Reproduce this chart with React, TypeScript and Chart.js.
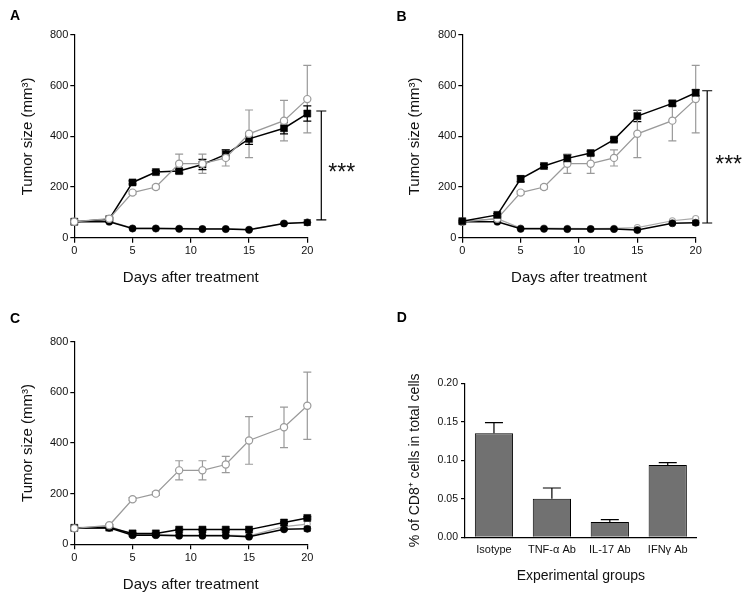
import React, { useEffect, useRef } from "react";
import { Chart, registerables } from "chart.js";

Chart.register(...registerables);

const FONT = "'Liberation Sans', Arial, Helvetica, sans-serif";
const GRAY = "#9a9a9a";
const BLACK = "#000";
const TEXT = "#111";

// ---------------- data ----------------
const days = [0, 3, 5, 7, 9, 11, 13, 15, 18, 20];
const dayTicks = [0, 5, 10, 15, 20];
const sizeTicks = [0, 200, 400, 600, 800];

// isotype control (grey open circles), same in A, B, C
const isoSize = [63, 75, 178, 200, 292, 292, 315, 410, 462, 547];
const isoErr = [3, 4, 6, 7, 38, 38, 32, 94, 80, 133];

// panel A
const aSquare = [63, 73, 218, 259, 263, 289, 329, 390, 432, 490];
const aSquareErr = [3, 4, 6, 6, 8, 20, 18, 22, 22, 30];
const aGray = [63, 66, 38, 38, 37, 36, 36, 33, 57, 62];
const aGrayErr = [2, 2, 2, 2, 2, 2, 2, 2, 3, 5];
const aCircle = [63, 63, 36, 36, 35, 34, 34, 31, 56, 60];
const aCircleErr = [2, 2, 2, 2, 2, 2, 2, 2, 4, 10];

// panel B
const bSquare = [65, 90, 232, 283, 313, 334, 387, 480, 530, 572];
const bSquareErr = [3, 5, 12, 6, 15, 8, 6, 22, 10, 12];
const bGray = [63, 75, 38, 38, 37, 36, 37, 40, 67, 76];
const bGrayErr = [2, 2, 2, 2, 2, 2, 2, 2, 3, 4];
const bCircle = [63, 63, 35, 35, 34, 34, 34, 30, 57, 59];
const bCircleErr = [2, 2, 2, 2, 2, 2, 2, 2, 4, 8];

// panel C
const cSquare = [65, 66, 43, 43, 58, 58, 58, 58, 86, 104];
const cSquareErr = [2, 2, 2, 2, 2, 2, 2, 2, 3, 4];
const cGray = [63, 72, 38, 38, 36, 36, 36, 33, 70, 80];
const cGrayErr = [2, 2, 2, 2, 2, 2, 2, 2, 3, 4];
const cCircle = [63, 65, 36, 36, 34, 34, 34, 30, 59, 61];
const cCircleErr = [2, 2, 2, 2, 2, 2, 2, 2, 4, 8];

// panel D
const groups = ["Isotype", "TNF-\u03b1 Ab", "IL-17 Ab", "IFN\u03b3 Ab"];
const cd8Vals = [0.135, 0.05, 0.02, 0.094];
const cd8Err = [0.014, 0.014, 0.003, 0.003];
const cd8Ticks = [0, 0.05, 0.1, 0.15, 0.2];

// ---------------- plugins ----------------
function drawErrors(chart: any, upOnly: boolean) {
  const ctx = chart.ctx;
  const yScale = chart.scales.y;
  chart.data.datasets.forEach((ds: any, di: number) => {
    const errs = ds.errors;
    if (!errs) return;
    const meta = chart.getDatasetMeta(di);
    ctx.save();
    ctx.strokeStyle = ds.errColor || BLACK;
    ctx.lineWidth = ds.errWidth || 1.2;
    meta.data.forEach((el: any, i: number) => {
      const raw = ds.data[i];
      const v = typeof raw === "number" ? raw : raw.y;
      const e = errs[i];
      const x = el.x;
      const yTop = yScale.getPixelForValue(v + e);
      const yBot = upOnly ? yScale.getPixelForValue(v) : yScale.getPixelForValue(v - e);
      const cap = ds.capHalf || 4;
      ctx.beginPath();
      ctx.moveTo(x, yTop);
      ctx.lineTo(x, yBot);
      ctx.moveTo(x - cap, yTop);
      ctx.lineTo(x + cap, yTop);
      if (!upOnly) {
        ctx.moveTo(x - cap, yBot);
        ctx.lineTo(x + cap, yBot);
      }
      ctx.stroke();
    });
    ctx.restore();
  });
}

const errorBarsPlugin = {
  id: "errorBars",
  beforeDatasetsDraw(chart: any, _a: any, opts: any) {
    if (opts && opts.mode === "line") drawErrors(chart, false);
  },
  afterDatasetsDraw(chart: any, _a: any, opts: any) {
    if (opts && opts.mode === "bar") drawErrors(chart, true);
  },
};

const bracketPlugin = {
  id: "sigBracket",
  afterDraw(chart: any, _a: any, opts: any) {
    if (!opts || !opts.show) return;
    const { ctx, chartArea } = chart;
    const y = chart.scales.y;
    const x = chartArea.right + opts.dx;
    const y1 = y.getPixelForValue(opts.from);
    const y2 = y.getPixelForValue(opts.to);
    const cap = opts.cap;
    ctx.save();
    ctx.strokeStyle = BLACK;
    ctx.lineWidth = 1.2;
    ctx.beginPath();
    ctx.moveTo(x, y1);
    ctx.lineTo(x, y2);
    ctx.moveTo(x - cap, y1);
    ctx.lineTo(x + cap, y1);
    ctx.moveTo(x - cap, y2);
    ctx.lineTo(x + cap, y2);
    ctx.stroke();
    ctx.fillStyle = TEXT;
    ctx.font = `23px ${FONT}`;
    ctx.textAlign = "left";
    ctx.textBaseline = "alphabetic";
    ctx.fillText(opts.text, x + opts.textDx, (y1 + y2) / 2 + 15);
    ctx.restore();
  },
};

const letterPlugin = {
  id: "panelLetter",
  afterDraw(chart: any, _a: any, opts: any) {
    if (!opts || !opts.text) return;
    const ctx = chart.ctx;
    ctx.save();
    ctx.fillStyle = BLACK;
    ctx.font = `bold 14px ${FONT}`;
    ctx.textAlign = "left";
    ctx.textBaseline = "alphabetic";
    ctx.fillText(opts.text, opts.x, opts.y);
    ctx.restore();
  },
};

// ---------------- helpers ----------------
type Layout = {
  w: number;
  h: number;
  left: number;
  right: number;
  top: number;
  bottom: number;
  yTitlePad: number;
  xTitlePad: number;
};

type Kind = "ctrl" | "square" | "circle" | "gray";

function series(data: number[], err: number[], kind: Kind) {
  const base: any = {
    data: days.map((d, i) => ({ x: d, y: data[i] })),
    errors: err,
    clip: false,
    tension: 0,
    fill: false,
  };
  if (kind === "ctrl") {
    return {
      ...base,
      borderColor: GRAY,
      borderWidth: 1.3,
      pointStyle: "circle",
      pointRadius: 3.6,
      pointBackgroundColor: "#fff",
      pointBorderColor: GRAY,
      pointBorderWidth: 1.2,
      errColor: GRAY,
      capHalf: 4,
    };
  }
  if (kind === "gray") {
    return {
      ...base,
      borderColor: "#a8a8a8",
      borderWidth: 1.2,
      pointStyle: "circle",
      pointRadius: 3,
      pointBackgroundColor: "#fff",
      pointBorderColor: "#a8a8a8",
      pointBorderWidth: 1.1,
      errColor: "#a8a8a8",
      capHalf: 3,
    };
  }
  if (kind === "square") {
    return {
      ...base,
      borderColor: BLACK,
      borderWidth: 1.5,
      pointStyle: "rect",
      pointRadius: 5,
      pointBackgroundColor: BLACK,
      pointBorderColor: BLACK,
      pointBorderWidth: 0.5,
      errColor: BLACK,
      capHalf: 4,
    };
  }
  return {
    ...base,
    borderColor: BLACK,
    borderWidth: 1.5,
    pointStyle: "circle",
    pointRadius: 3.6,
    pointBackgroundColor: BLACK,
    pointBorderColor: BLACK,
    pointBorderWidth: 0.5,
    errColor: BLACK,
    capHalf: 3.5,
  };
}

function lineConfig(L: Layout, datasets: any[], letter: any, bracket: any) {
  return {
    type: "line",
    data: { datasets },
    plugins: [errorBarsPlugin, bracketPlugin, letterPlugin],
    options: {
      animation: false,
      responsive: false,
      devicePixelRatio: 1,
      layout: { padding: { left: 0, top: L.top, right: L.w - L.right, bottom: 0 } },
      plugins: {
        legend: { display: false },
        tooltip: { enabled: false },
        errorBars: { mode: "line" },
        sigBracket: bracket,
        panelLetter: letter,
      },
      scales: {
        x: {
          type: "linear",
          min: 0,
          max: 20,
          afterBuildTicks: (s: any) => {
            s.ticks = dayTicks.map((v) => ({ value: v }));
          },
          ticks: { color: TEXT, font: { size: 11, family: FONT }, padding: 2, maxRotation: 0 },
          grid: { display: true, drawOnChartArea: false, drawTicks: true, tickLength: 5, color: BLACK, lineWidth: 1.2 },
          border: { display: true, color: BLACK, width: 1.2 },
          title: {
            display: true,
            text: "Days after treatment",
            color: TEXT,
            font: { size: 15, family: FONT },
            padding: { top: 0, bottom: L.xTitlePad },
          },
          afterFit: (s: any) => {
            s.height = L.h - L.bottom;
          },
        },
        y: {
          type: "linear",
          min: 0,
          max: 800,
          afterBuildTicks: (s: any) => {
            s.ticks = sizeTicks.map((v) => ({ value: v }));
          },
          ticks: { color: TEXT, font: { size: 11, family: FONT }, padding: 2 },
          grid: { display: true, drawOnChartArea: false, drawTicks: true, tickLength: 4, color: BLACK, lineWidth: 1.2 },
          border: { display: true, color: BLACK, width: 1.2 },
          title: {
            display: true,
            text: "Tumor size (mm\u00b3)",
            color: TEXT,
            font: { size: 15, family: FONT },
            padding: { top: L.yTitlePad, bottom: 0 },
          },
          afterFit: (s: any) => {
            s.width = L.left;
          },
        },
      },
    },
  };
}

function barConfig(L: Layout) {
  return {
    type: "bar",
    data: {
      labels: groups,
      datasets: [
        {
          data: cd8Vals,
          errors: cd8Err,
          errColor: BLACK,
          capHalf: 9,
          backgroundColor: "#717171",
          borderColor: BLACK,
          borderWidth: 1,
          barPercentage: 0.66,
          categoryPercentage: 1,
        },
      ],
    },
    plugins: [errorBarsPlugin, letterPlugin],
    options: {
      animation: false,
      responsive: false,
      devicePixelRatio: 1,
      layout: { padding: { left: 0, top: L.top, right: L.w - L.right, bottom: 0 } },
      plugins: {
        legend: { display: false },
        tooltip: { enabled: false },
        errorBars: { mode: "bar" },
        panelLetter: { text: "D", x: 21.7, y: 22.3 },
      },
      scales: {
        x: {
          type: "category",
          offset: true,
          ticks: { color: TEXT, font: { size: 11, family: FONT }, padding: 6, maxRotation: 0, autoSkip: false },
          grid: { display: true, drawOnChartArea: false, drawTicks: false, color: BLACK },
          border: { display: true, color: BLACK, width: 1.2 },
          title: {
            display: true,
            text: "Experimental groups",
            color: TEXT,
            font: { size: 14, family: FONT },
            padding: { top: 0, bottom: L.xTitlePad },
          },
          afterFit: (s: any) => {
            s.height = L.h - L.bottom;
          },
        },
        y: {
          type: "linear",
          min: 0,
          max: 0.2,
          afterBuildTicks: (s: any) => {
            s.ticks = cd8Ticks.map((v) => ({ value: v }));
          },
          ticks: {
            color: TEXT,
            font: { size: 10.5, family: FONT },
            padding: 3,
            callback: (v: any) => Number(v).toFixed(2),
          },
          grid: { display: true, drawOnChartArea: false, drawTicks: true, tickLength: 4, color: BLACK, lineWidth: 1.2 },
          border: { display: true, color: BLACK, width: 1.2 },
          title: {
            display: true,
            text: "% of CD8\u207a cells in total cells",
            color: TEXT,
            font: { size: 14, family: FONT },
            padding: { top: L.yTitlePad, bottom: 0 },
          },
          afterFit: (s: any) => {
            s.width = L.left;
          },
        },
      },
    },
  };
}

// ---------------- layouts ----------------
const layoutA: Layout = { w: 375, h: 300, left: 74.3, right: 307.3, top: 35, bottom: 237.7, yTitlePad: 19, xTitlePad: 13 };
const layoutB: Layout = { w: 376, h: 300, left: 87.3, right: 320.7, top: 35, bottom: 237.7, yTitlePad: 31, xTitlePad: 13 };
const layoutC: Layout = { w: 375, h: 302, left: 74.3, right: 307.3, top: 41.7, bottom: 244.3, yTitlePad: 19, xTitlePad: 8 };
const layoutD: Layout = { w: 376, h: 302, left: 90, right: 321.7, top: 83.3, bottom: 237.3, yTitlePad: 31.6, xTitlePad: 17 };

function ChartCanvas(props: { make: () => any; x: number; y: number; w: number; h: number }) {
  const ref = useRef<HTMLCanvasElement>(null);
  useEffect(() => {
    const chart = new Chart(ref.current as HTMLCanvasElement, props.make());
    return () => chart.destroy();
  }, []);
  return (
    <canvas
      ref={ref}
      width={props.w}
      height={props.h}
      style={{ position: "absolute", left: props.x, top: props.y, width: props.w, height: props.h }}
    />
  );
}

export default function App() {
  const makeA = () =>
    lineConfig(
      layoutA,
      [
        series(isoSize, isoErr, "ctrl"),
        series(aSquare, aSquareErr, "square"),
        series(aCircle, aCircleErr, "circle"),
        series(aGray, aGrayErr, "gray"),
      ],
      { text: "A", x: 10, y: 19.5 },
      { show: true, from: 500, to: 70, dx: 14, cap: 5, text: "***", textDx: 7 }
    );
  const makeB = () =>
    lineConfig(
      layoutB,
      [
        series(bSquare, bSquareErr, "square"),
        series(isoSize, isoErr, "ctrl"),
        series(bCircle, bCircleErr, "circle"),
        series(bGray, bGrayErr, "gray"),
      ],
      { text: "B", x: 21.5, y: 20.5 },
      { show: true, from: 580, to: 58, dx: 11.5, cap: 5, text: "***", textDx: 8 }
    );
  const makeC = () =>
    lineConfig(
      layoutC,
      [
        series(isoSize, isoErr, "ctrl"),
        series(cSquare, cSquareErr, "square"),
        series(cCircle, cCircleErr, "circle"),
        series(cGray, cGrayErr, "gray"),
      ],
      { text: "C", x: 10, y: 22.5 },
      { show: false }
    );
  const makeD = () => barConfig(layoutD);

  return (
    <div style={{ position: "absolute", left: 0, top: 0, width: 751, height: 602, background: "#fff", overflow: "hidden" }}>
      <ChartCanvas make={makeA} x={0} y={0} w={375} h={300} />
      <ChartCanvas make={makeB} x={375} y={0} w={376} h={300} />
      <ChartCanvas make={makeC} x={0} y={300} w={375} h={302} />
      <ChartCanvas make={makeD} x={375} y={300} w={376} h={302} />
    </div>
  );
}
